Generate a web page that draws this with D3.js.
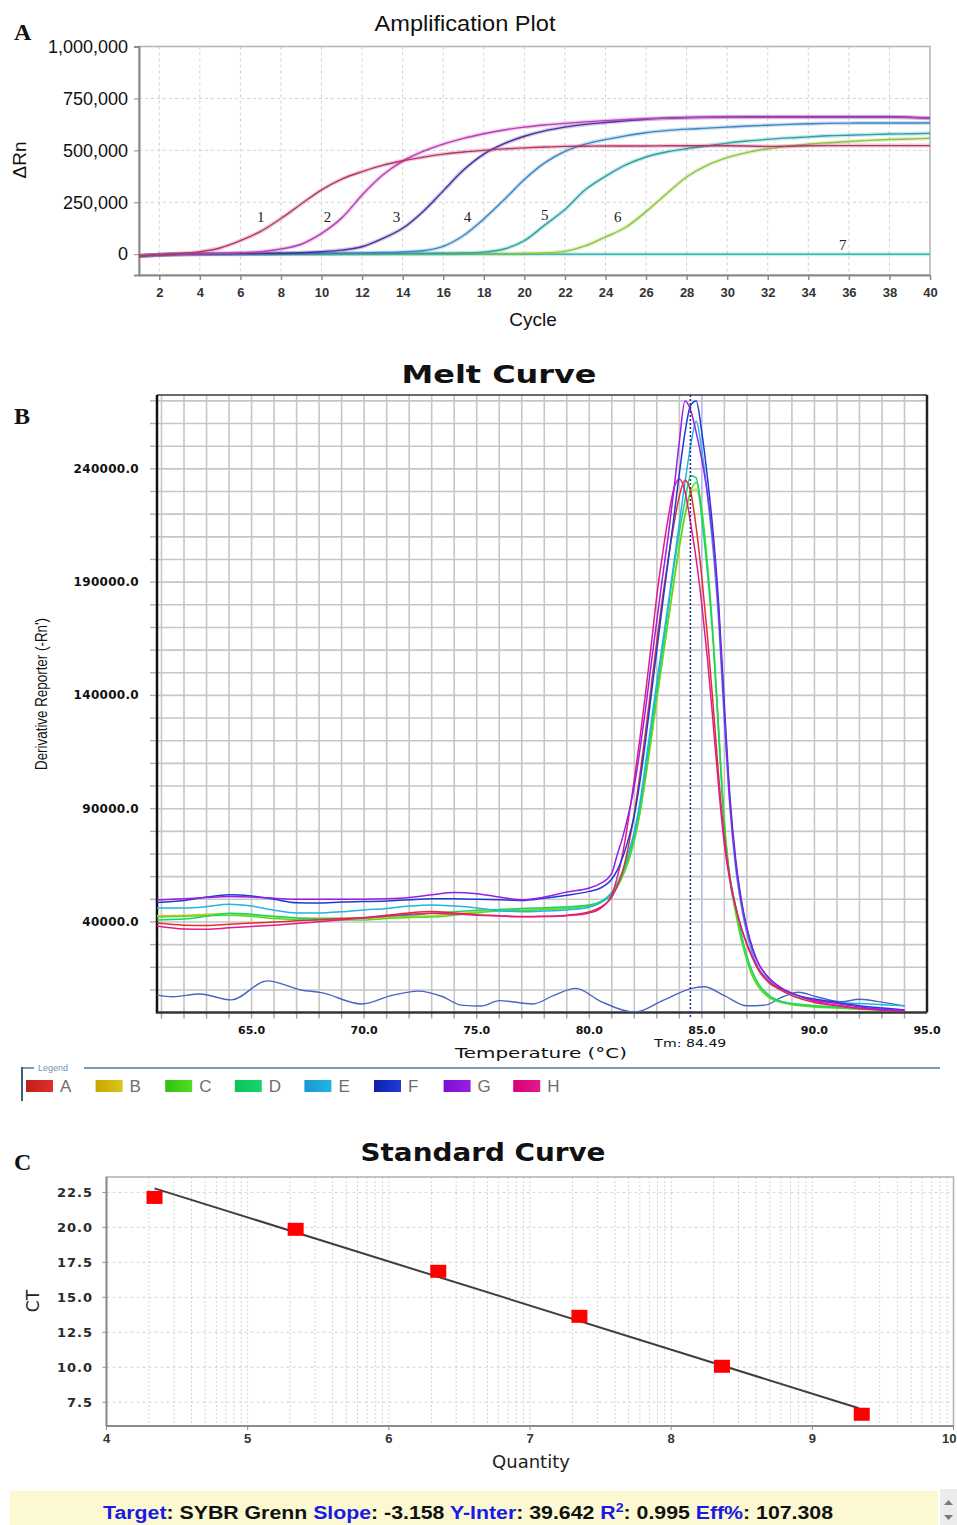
<!DOCTYPE html>
<html>
<head>
<meta charset="utf-8">
<script src="https://cdn.jsdelivr.net/npm/d3@7"></script>
<style>
  body { margin: 0; background: #fff; }
  svg { display: block; }
</style>
</head>
<body>
<svg id="chart" width="957" height="1525"></svg>
<script>
// ---------- A: amplification plot (values in thousands of ΔRn) ----------
const ampCycles = [1,2,3,4,5,6,7,8,9,10,11,12,13,14,15,16,17,18,19,20,21,22,23,24,25,26,27,28,29,30,31,32,33,34,35,36,37,38,39,40];
const amp1 = [-8,-3,3,12,30,65,110,172,242,310,362,398,428,450,467,482,492,500,507,512,516,519,520,521,521,521,522,522,522,522,521,519,520,522,523,523,523,523,523,523];
const amp2 = [-8,-3,0,2,4,7,12,25,48,100,175,285,380,448,495,530,558,580,598,612,622,630,637,643,648,652,655,657,659,660,660,660,660,660,660,660,660,660,658,655];
const amp3 = [-8,-3,0,1,2,3,4,5,7,12,20,36,75,125,205,305,405,482,532,568,594,612,625,634,642,650,655,658,660,661,662,662,662,662,662,662,662,662,660,655];
const amp4 = [-8,-3,0,1,1,2,2,3,3,4,5,6,8,11,17,38,90,170,262,360,440,495,530,552,570,585,595,602,607,612,617,621,625,628,630,631,632,632,632,632];
const amp5 = [-8,-3,0,0,1,1,1,2,2,2,3,3,3,4,4,5,6,10,25,65,140,215,310,375,430,468,492,508,522,535,545,553,560,565,570,573,576,579,580,582];
const amp6 = [-8,-3,0,0,0,0,1,1,1,1,1,1,2,2,2,2,2,3,3,4,6,14,40,83,130,205,290,372,428,465,490,508,520,530,537,543,548,552,555,558];
const amp7 = [-8,-3,0,0,0,0,0,0,0,0,0,0,0,0,0,0,0,0,0,0,0,0,0,0,0,0,0,0,0,0,0,0,0,0,0,0,0,0,0,0];
const ampColors = ["#b8336a", "#bb3cb4", "#4a2c9e", "#3a86c4", "#2aa2a6", "#8cc43c", "#3cb8b4"];
const ampLabels = ["1", "2", "3", "4", "5", "6", "7"];
const ampLabelCycle = [7.0, 10.3, 13.7, 17.2, 21.0, 24.6, 35.7];
const ampLabelValue = [178, 178, 178, 178, 190, 178, 45];
const ampYTicks = [0, 250000, 500000, 750000, 1000000];
const ampXTicks = [2,4,6,8,10,12,14,16,18,20,22,24,26,28,30,32,34,36,38,40];

// ---------- B: melt curve (values in thousands of -Rn') ----------
const meltTemps = [60.8,62,63,64,65,66,67,68,69,70,71,72,73,74,75,76,77,78,79,80,80.5,81,
  81.25,81.5,81.75,82,82.25,82.5,82.75,83,83.25,83.5,83.75,84,84.25,84.5,84.75,85,85.25,85.5,85.75,86,86.25,86.5,86.75,87,87.25,87.5,
  88,88.5,89,90,91,92,93,94];
const meltA = [39.5,38.6,38.5,39,39.5,40,40.5,41,41.5,42,43,44,44.6,44,43.2,42.8,42.4,42.5,43, 44.5,46.5,51,
  56,63,74,88,105,124,144,164,183,200,215,228,235,230,214,192,166,136,104,77,59,47,37.5,30,24,19,
  13,10,7.5,4.5,3,1.8,1.2,0.6];
const meltB = [42.8,43,43.4,43.6,43,42.2,41.8,41.6,41.6,41.6,42,42.5,42.8,43.5,44.5,45.2,45.5,46,46.5, 47.5,49,52.5,
  56,61,67.5,76,88,103,120,138,155,172,189,205,219,229,231,220,197,166,125,85,59,45,33,24,17,12,
  7,5,4,3,2.2,1.6,1.2,1];
const meltC = [42.2,42.5,42.8,43,42.5,41.5,41,40.9,40.9,40.9,41.5,42,42.2,43,44,44.8,45,45.5,46, 47,48.5,52,
  55.5,60.5,67,76,88,104,121,139,156,173,190,206,220,230,234,222,198,166,124,84,58,44,32,23,16,11.5,
  6.5,4.5,3.5,2.5,2,1.5,1.2,1];
const meltD = [40.9,41.3,42.5,43.8,43.4,42.5,41.8,41.5,41.5,41.8,42.5,43,43.8,44.5,45.2,45.5,46,46.3,46.7, 47.5,49,53,
  57,62,69,78,91,107,125,143,160,178,196,212,226,237,236,218,194,164,122,82,60,47,35,25,18,13,
  7.5,5,4,3,2.5,2,1.5,1];
const meltE = [46.2,46.2,46.8,47.8,47,45.2,44,44,44.5,45.3,46,47,47.5,47,46.2,45,44.5,44.8,45.3, 46.5,48.5,53,
  57,63,71,80,93,110,128,146,163,180,198,216,234,250,261,248,228,204,172,128,90,64,47,35,26,20,
  14,10,7.5,5.5,4.5,4,3.5,3];
const meltF = [48.6,49.5,51,52,51.5,50,48.5,48.4,48.8,49,49.3,49.8,50.2,50.2,50,49.8,49.5,50.5,51.8, 53.5,55,59,
  63,69,77,87,102,120,140,160,180,199,218,238,256,268,270,256,236,212,180,136,95,68,50,37.5,28.5,22,
  15,11,8.5,6,4.5,3,2,1.2];
const meltG = [49.7,50.3,50.8,51.2,51,50.5,50,50,50,50,50.2,50.8,52,53,52.5,51,49.8,51,53.2, 55,57,61.6,
  70,78,88,100,116,134,154,173,192,210,230,252,270,266,256,244,229,208,176,132,92,66,49,37,28,22,
  15,11,8.5,5.5,4,2.5,1.5,1];
const meltH = [38.2,36.9,36.8,37.4,38,38.6,39.3,40.1,41,41.8,42.6,43.4,43.9,43.5,43,42.6,42.3,42.4,42.8, 44,46,52,
  60,71,86,103,121,141,162,184,202,218,231,235.5,230,216,200,180,156,128,99,74,58,46.5,37.5,30.5,24.5,19.5,
  13.5,10.5,8.5,5,3.2,1.8,1.2,0.5];
const ntcTemps = [60.8,61.5,62.7,64.1,65.7,67.2,68.1,69.9,71.2,72.4,73.5,74.3,75.2,76.0,77.5,78.4,79.4,80.5,82.0,83.3,84.6,85.1,86.0,87.0,87.8,88.6,89.3,90.1,91.2,92.0,93.1,94.0];
const ntcValues = [7.7,7.0,8.2,5.6,14.0,10.0,8.8,3.8,7.5,9.5,7.0,3.3,2.9,5.3,3.8,7.5,10.7,5.0,0.2,5.5,10.8,11.4,7.5,3.0,3.3,7.0,9.0,7.0,4.8,5.9,4.4,2.9];
const meltNames = ["A", "B", "C", "D", "E", "F", "G", "H"];
const meltColors = ["#e0302a", "#d8c41e", "#4ede22", "#14d66e", "#22b4e6", "#1f3ad6", "#9a1ee6", "#e41a8c"];
const meltSwatchDark = ["#c01e18", "#c8a800", "#34c010", "#10c058", "#1898d0", "#1020a8", "#7a10d0", "#d80078"];
const meltDrawOrder = [1, 2, 3, 4, 0, 7, 5, 6];
const meltYTicks = [40000, 90000, 140000, 190000, 240000];
const meltXTicks = [65, 70, 75, 80, 85, 90, 95];
const tmValue = 84.49;

// ---------- C: standard curve ----------
const stdLogQty = [4.34, 5.34, 6.35, 7.35, 8.36, 9.35];
const stdCt = [22.14, 19.86, 16.86, 13.64, 10.07, 6.64];
const fitLogQty = [4.34, 9.33];
const fitCt = [22.79, 7.07];
const stdYTicks = [7.5, 10.0, 12.5, 15.0, 17.5, 20.0, 22.5];
const stdXTicks = [4, 5, 6, 7, 8, 9, 10];
const infoParts = [
  ["Target", "#1a1ae6"], [": SYBR Grenn ", "#111"], ["Slope", "#1a1ae6"], [": -3.158 ", "#111"],
  ["Y-Inter", "#1a1ae6"], [": 39.642 ", "#111"], ["R", "#1a1ae6"], ["2", "#1a1ae6", "sup"], [": 0.995 ", "#111", "base"],
  ["Eff%", "#1a1ae6"], [": 107.308", "#111"]
];

const svg = d3.select("#chart");
svg.append("rect").attr("width", 957).attr("height", 1525).attr("fill", "#fff");

function panelLetter(text, x, y) {
  svg.append("text").attr("x", x).attr("y", y)
    .attr("font-family", "Liberation Serif, Times New Roman, serif")
    .attr("font-weight", "bold").attr("font-size", 24).attr("fill", "#111").text(text);
}

function drawAmplification() {
  const x = d3.scaleLinear().domain([1, 40]).range([139, 930]);
  const y = d3.scaleLinear().domain([-100000, 1000000]).range([275, 46.5]);
  const g = svg.append("g");

  panelLetter("A", 14, 40);

  g.append("text").attr("x", 465).attr("y", 31).attr("text-anchor", "middle")
    .attr("font-family", "Liberation Sans, Arial, sans-serif").attr("font-size", 22)
    .attr("textLength", 181).attr("lengthAdjust", "spacingAndGlyphs").attr("fill", "#111")
    .text("Amplification Plot");

  // dashed grid
  g.append("g").selectAll("line").data(ampXTicks.slice(0, -1)).join("line")
    .attr("x1", d => x(d)).attr("x2", d => x(d)).attr("y1", y(1000000)).attr("y2", y(-100000))
    .attr("stroke", "#d2d2d2").attr("stroke-dasharray", "3,3");
  g.append("g").selectAll("line").data(ampYTicks.slice(0, -1)).join("line")
    .attr("x1", x(1)).attr("x2", x(40)).attr("y1", d => y(d)).attr("y2", d => y(d))
    .attr("stroke", "#d2d2d2").attr("stroke-dasharray", "3,3");

  g.append("rect").attr("x", x(1)).attr("y", y(1000000))
    .attr("width", x(40) - x(1)).attr("height", y(-100000) - y(1000000))
    .attr("fill", "none").attr("stroke", "#b4b4b4").attr("stroke-width", 1.5);

  const yAxis = g.append("g").attr("transform", `translate(${x(1)},0)`)
    .call(d3.axisLeft(y).tickValues(ampYTicks).tickSize(5).tickFormat(d3.format(",")));
  yAxis.select(".domain").attr("stroke", "#8a8a8a").attr("stroke-width", 2);
  yAxis.selectAll(".tick line").attr("stroke", "#8a8a8a");
  yAxis.selectAll("text").attr("font-family", "Liberation Sans, Arial, sans-serif")
    .attr("font-size", 18).attr("fill", "#111").attr("dx", -3);

  const xAxis = g.append("g").attr("transform", `translate(0,${y(-100000)})`)
    .call(d3.axisBottom(x).tickValues(ampXTicks).tickSize(5).tickSizeOuter(0));
  xAxis.select(".domain").attr("stroke", "#8a8a8a").attr("stroke-width", 2);
  xAxis.selectAll(".tick line").attr("stroke", "#8a8a8a").attr("stroke-width", 1.5);
  xAxis.selectAll("text").attr("font-family", "Liberation Sans Narrow, Liberation Sans, Arial, sans-serif")
    .attr("font-weight", "bold").attr("font-size", 13).attr("fill", "#333").attr("dy", "1.05em");

  g.append("text").attr("x", 533).attr("y", 326).attr("text-anchor", "middle")
    .attr("font-family", "Liberation Sans, Arial, sans-serif").attr("font-size", 19).attr("fill", "#111")
    .text("Cycle");
  g.append("text").attr("transform", "translate(26,160) rotate(-90)").attr("text-anchor", "middle")
    .attr("font-family", "Liberation Sans, Arial, sans-serif").attr("font-size", 19).attr("fill", "#111")
    .text("ΔRn");

  const series = [amp1, amp2, amp3, amp4, amp5, amp6, amp7];
  const line = d3.line().x((d, i) => x(ampCycles[i])).y(d => y(d * 1000)).curve(d3.curveMonotoneX);
  const order = [6, 5, 4, 3, 2, 1, 0];
  order.forEach(i => {
    g.append("path").attr("d", line(series[i])).attr("fill", "none")
      .attr("stroke", ampColors[i]).attr("stroke-opacity", 0.25).attr("stroke-width", 4);
    g.append("path").attr("d", line(series[i])).attr("fill", "none")
      .attr("stroke", ampColors[i]).attr("stroke-width", 1.4);
  });

  g.append("g").selectAll("text").data(ampLabels).join("text")
    .attr("x", (d, i) => x(ampLabelCycle[i])).attr("y", (d, i) => y(ampLabelValue[i] * 1000) + 5)
    .attr("text-anchor", "middle").attr("font-family", "Liberation Serif, Times New Roman, serif")
    .attr("font-size", 15).attr("fill", "#222").text(d => d);
}

function drawMelt() {
  const x = d3.scaleLinear().domain([60.8, 95]).range([157, 927]);
  const y = d3.scaleLinear().domain([0, 272600]).range([1012.6, 395]);
  const g = svg.append("g");

  panelLetter("B", 14, 424);

  g.append("text").attr("x", 499).attr("y", 383).attr("text-anchor", "middle")
    .attr("font-family", "DejaVu Sans, Verdana, sans-serif").attr("font-weight", "bold")
    .attr("font-size", 24).attr("textLength", 195).attr("lengthAdjust", "spacingAndGlyphs")
    .attr("fill", "#111").text("Melt Curve");

  const gridT = d3.range(61, 95);
  const gridV = d3.range(10000, 272600, 10000);
  g.append("g").selectAll("line").data(gridT).join("line")
    .attr("x1", d => x(d)).attr("x2", d => x(d)).attr("y1", y(272600)).attr("y2", y(0))
    .attr("stroke", d => d === 85 ? "#b9b6ee" : "#c6c6c6").attr("stroke-width", 1.6);
  g.append("g").selectAll("line").data(gridV).join("line")
    .attr("x1", x(60.8)).attr("x2", x(95)).attr("y1", d => y(d)).attr("y2", d => y(d))
    .attr("stroke", "#c6c6c6").attr("stroke-width", 1.6);

  // minor ticks outside the axes
  g.append("g").selectAll("line").data(gridV).join("line")
    .attr("x1", x(60.8) - 7).attr("x2", x(60.8)).attr("y1", d => y(d)).attr("y2", d => y(d))
    .attr("stroke", "#b0b0b0").attr("stroke-width", 1.4);
  g.append("g").selectAll("line").data(gridT).join("line")
    .attr("x1", d => x(d)).attr("x2", d => x(d)).attr("y1", y(0)).attr("y2", y(0) + 6)
    .attr("stroke", "#a0a0a0").attr("stroke-width", 1.4);

  // frame
  g.append("line").attr("x1", x(60.8)).attr("x2", x(95)).attr("y1", y(272600)).attr("y2", y(272600))
    .attr("stroke", "#3a3a3a").attr("stroke-width", 1.5);
  g.append("line").attr("x1", x(95)).attr("x2", x(95)).attr("y1", y(272600)).attr("y2", y(0))
    .attr("stroke", "#222").attr("stroke-width", 2.5);
  g.append("line").attr("x1", x(60.8)).attr("x2", x(60.8)).attr("y1", y(272600)).attr("y2", y(0) + 1)
    .attr("stroke", "#111").attr("stroke-width", 2.5);
  g.append("line").attr("x1", x(60.8)).attr("x2", x(95)).attr("y1", y(0)).attr("y2", y(0))
    .attr("stroke", "#333").attr("stroke-width", 2.5);

  g.append("defs").append("clipPath").attr("id", "meltClip").append("rect")
    .attr("x", x(60.8)).attr("y", y(272600)).attr("width", x(95) - x(60.8)).attr("height", y(0) - y(272600));

  const plot = g.append("g").attr("clip-path", "url(#meltClip)");
  const line = d3.line().x(d => x(d[0])).y(d => y(d[1] * 1000)).curve(d3.curveMonotoneX);

  plot.append("path").attr("d", line(ntcTemps.map((t, i) => [t, ntcValues[i]])))
    .attr("fill", "none").attr("stroke", "#4a64c4").attr("stroke-width", 1.4);

  // Tm marker
  g.append("line").attr("x1", x(tmValue)).attr("x2", x(tmValue)).attr("y1", y(272600)).attr("y2", y(0) + 6)
    .attr("stroke", "#1e3a8c").attr("stroke-width", 1.6).attr("stroke-dasharray", "2,2");

  const series = [meltA, meltB, meltC, meltD, meltE, meltF, meltG, meltH];
  meltDrawOrder.forEach(i => {
    plot.append("path").attr("d", line(meltTemps.map((t, j) => [t, series[i][j]])))
      .attr("fill", "none").attr("stroke", meltColors[i]).attr("stroke-width", 1.5);
  });

  g.append("g").selectAll("text").data(meltYTicks).join("text")
    .attr("x", 139).attr("y", d => y(d) + 4).attr("text-anchor", "end")
    .attr("font-family", "DejaVu Sans, Verdana, sans-serif").attr("font-weight", "bold")
    .attr("font-size", 12).attr("letter-spacing", 0.3).attr("fill", "#111").text(d => d3.format(".1f")(d));
  g.append("g").selectAll("text").data(meltXTicks).join("text")
    .attr("x", d => x(d)).attr("y", 1034).attr("text-anchor", "middle")
    .attr("font-family", "DejaVu Sans, Verdana, sans-serif").attr("font-weight", "bold")
    .attr("font-size", 11).attr("fill", "#111").text(d => d3.format(".1f")(d));

  g.append("text").attr("x", x(tmValue)).attr("y", 1047).attr("text-anchor", "middle")
    .attr("font-family", "DejaVu Sans, Verdana, sans-serif").attr("font-size", 11)
    .attr("textLength", 72).attr("lengthAdjust", "spacingAndGlyphs")
    .attr("fill", "#111").text("Tm: " + tmValue.toFixed(2));
  g.append("text").attr("x", 541).attr("y", 1058).attr("text-anchor", "middle")
    .attr("font-family", "DejaVu Sans, Verdana, sans-serif").attr("font-size", 14.5)
    .attr("textLength", 172).attr("lengthAdjust", "spacingAndGlyphs")
    .attr("fill", "#111").text("Temperature (°C)");
  g.append("text").attr("transform", "translate(47,694) rotate(-90)").attr("text-anchor", "middle")
    .attr("font-family", "Liberation Sans Narrow, Liberation Sans, Arial, sans-serif").attr("font-size", 16)
    .attr("textLength", 152).attr("lengthAdjust", "spacingAndGlyphs")
    .attr("fill", "#111").text("Derivative Reporter (-Rn')");

  // legend
  const lg = g.append("g");
  lg.append("line").attr("x1", 22).attr("x2", 34).attr("y1", 1068).attr("y2", 1068).attr("stroke", "#4d7e94").attr("stroke-width", 1.5);
  lg.append("line").attr("x1", 84).attr("x2", 940).attr("y1", 1068).attr("y2", 1068).attr("stroke", "#4d7e94").attr("stroke-width", 1.5);
  lg.append("line").attr("x1", 22).attr("x2", 22).attr("y1", 1067).attr("y2", 1101).attr("stroke", "#3e5f78").attr("stroke-width", 2);
  lg.append("text").attr("x", 38).attr("y", 1071).attr("font-family", "Liberation Sans, Arial, sans-serif")
    .attr("font-size", 9).attr("fill", "#7790b4").text("Legend");

  const defs = lg.append("defs");
  meltNames.forEach((n, i) => {
    const grad = defs.append("linearGradient").attr("id", "sw" + n);
    grad.append("stop").attr("offset", "0%").attr("stop-color", meltSwatchDark[i]);
    grad.append("stop").attr("offset", "100%").attr("stop-color", meltColors[i]);
  });
  const item = lg.selectAll("g.item").data(meltNames).join("g").attr("class", "item")
    .attr("transform", (d, i) => `translate(${26 + i * 69.6},1080)`);
  item.append("rect").attr("width", 27).attr("height", 12).attr("fill", d => `url(#sw${d})`);
  item.append("text").attr("x", 34).attr("y", 12).attr("font-family", "Liberation Sans, Arial, sans-serif")
    .attr("font-size", 17).attr("fill", "#6e6e6e").text(d => d);
}

function drawStandard() {
  const x = d3.scaleLog().domain([1e4, 1e10]).range([106.5, 953.5]);
  const y = d3.scaleLinear().domain([5.8, 23.6]).range([1426, 1177]);
  const g = svg.append("g");

  panelLetter("C", 14, 1170);

  g.append("text").attr("x", 483).attr("y", 1161).attr("text-anchor", "middle")
    .attr("font-family", "DejaVu Sans, Verdana, sans-serif").attr("font-weight", "bold")
    .attr("font-size", 24).attr("textLength", 245).attr("lengthAdjust", "spacingAndGlyphs")
    .attr("fill", "#111").text("Standard Curve");

  const minor = x.ticks().filter(d => d > 1e4 && d < 1e10);
  g.append("g").selectAll("line").data(minor).join("line")
    .attr("x1", d => x(d)).attr("x2", d => x(d)).attr("y1", y(23.6)).attr("y2", y(5.8))
    .attr("stroke", "#d4d4d4").attr("stroke-dasharray", "2,2");
  g.append("g").selectAll("line").data(stdYTicks).join("line")
    .attr("x1", x(1e4)).attr("x2", x(1e10)).attr("y1", d => y(d)).attr("y2", d => y(d))
    .attr("stroke", "#d4d4d4").attr("stroke-dasharray", "3,3");

  g.append("rect").attr("x", x(1e4)).attr("y", y(23.6))
    .attr("width", x(1e10) - x(1e4)).attr("height", y(5.8) - y(23.6))
    .attr("fill", "none").attr("stroke", "#b0b0b0").attr("stroke-width", 1.5);
  g.append("line").attr("x1", x(1e4)).attr("x2", x(1e4)).attr("y1", y(23.6)).attr("y2", y(5.8))
    .attr("stroke", "#8c8c8c").attr("stroke-width", 2);
  g.append("line").attr("x1", x(1e4)).attr("x2", x(1e10)).attr("y1", y(5.8)).attr("y2", y(5.8))
    .attr("stroke", "#8c8c8c").attr("stroke-width", 2);

  g.append("g").selectAll("line").data(stdYTicks).join("line")
    .attr("x1", x(1e4) - 4).attr("x2", x(1e4)).attr("y1", d => y(d)).attr("y2", d => y(d))
    .attr("stroke", "#8c8c8c");
  g.append("g").selectAll("line").data(stdXTicks).join("line")
    .attr("x1", d => x(Math.pow(10, d))).attr("x2", d => x(Math.pow(10, d)))
    .attr("y1", y(5.8)).attr("y2", y(5.8) + 4).attr("stroke", "#8c8c8c");

  g.append("g").selectAll("text").data(stdYTicks).join("text")
    .attr("x", 93).attr("y", d => y(d) + 5).attr("text-anchor", "end")
    .attr("font-family", "DejaVu Sans, Verdana, sans-serif").attr("font-weight", "bold").attr("font-size", 13)
    .attr("letter-spacing", 1).attr("fill", "#2a2a2a").text(d => d.toFixed(1));
  g.append("g").selectAll("text").data(stdXTicks).join("text")
    .attr("x", d => x(Math.pow(10, d))).attr("y", 1443)
    .attr("text-anchor", d => d === 10 ? "end" : "middle").attr("dx", d => d === 10 ? 3 : 0)
    .attr("font-family", "Liberation Sans Narrow, Liberation Sans, Arial, sans-serif").attr("font-weight", "bold")
    .attr("font-size", 13).attr("fill", "#333").text(d => d);

  g.append("text").attr("x", 531).attr("y", 1468).attr("text-anchor", "middle")
    .attr("font-family", "DejaVu Sans, Verdana, sans-serif").attr("font-size", 18)
    .attr("fill", "#222").text("Quantity");
  g.append("text").attr("transform", "translate(39,1301) rotate(-90)").attr("text-anchor", "middle")
    .attr("font-family", "DejaVu Sans, Verdana, sans-serif").attr("font-size", 17)
    .attr("fill", "#222").text("CT");

  const fit = d3.line().x(d => x(Math.pow(10, d))).y((d, i) => y(fitCt[i]));
  g.append("path").attr("d", fit(fitLogQty)).attr("fill", "none").attr("stroke", "#3e3e3e").attr("stroke-width", 2);

  g.append("g").selectAll("rect").data(stdLogQty).join("rect")
    .attr("x", d => x(Math.pow(10, d)) - 8).attr("y", (d, i) => y(stdCt[i]) - 6.5)
    .attr("width", 16).attr("height", 13).attr("fill", "#ff0000");

  // info bar
  g.append("rect").attr("x", 10).attr("y", 1491).attr("width", 928).attr("height", 34).attr("fill", "#fbf8d2");
  const info = g.append("text").attr("x", 103).attr("y", 1519)
    .attr("font-family", "Liberation Sans, Arial, sans-serif").attr("font-weight", "bold").attr("font-size", 18)
    .attr("textLength", 730).attr("lengthAdjust", "spacingAndGlyphs");
  infoParts.forEach(p => {
    const t = info.append("tspan").attr("fill", p[1]).text(p[0]);
    if (p[2] === "sup") t.attr("font-size", 12).attr("dy", -7);
    else if (p[2] === "base") t.attr("dy", 7);
  });

  // scroll widget
  const sb = g.append("g");
  sb.append("rect").attr("x", 940).attr("y", 1489).attr("width", 17).attr("height", 36).attr("fill", "#ececec");
  sb.append("path").attr("d", "M944,1505 L948.5,1500 L953,1505 Z").attr("fill", "#7a7a7a");
  sb.append("path").attr("d", "M944,1515 L948.5,1520 L953,1515 Z").attr("fill", "#7a7a7a");
}

drawAmplification();
drawMelt();
drawStandard();
</script>
</body>
</html>
